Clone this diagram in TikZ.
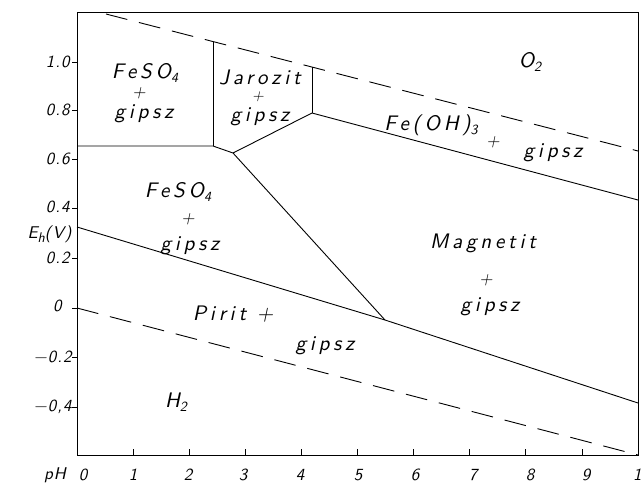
\documentclass[tikz,border=0pt]{standalone}
\usepackage{fontspec}
\newfontfamily\hand{lmsans10-oblique.otf}[LetterSpace=18]
\newfontfamily\handax{lmsans10-oblique.otf}[LetterSpace=6]
\newcommand\sbs[1]{\raisebox{-0.5ex}{\fontsize{14}{14}\selectfont #1}}
\begin{document}
\begin{tikzpicture}[x=1pt,y=-1pt,line width=0.9pt,
  lbl/.style={font=\fontsize{21}{23}\selectfont\hand, inner sep=0pt, anchor=base},
  pl/.style={font=\fontsize{17}{17}\selectfont\hand, inner sep=0pt, text height=7pt, text depth=0pt},
  ax/.style={font=\fontsize{17}{19}\selectfont\handax, inner sep=0pt},
  dsh/.style={dash pattern=on 22pt off 12pt},
  tick/.style={line width=0.8pt}]
\useasboundingbox (0,0) rectangle (644,490);
% frame
\coordinate (TL) at (77,12);
\coordinate (TR) at (638,12);
\coordinate (BR) at (638,455);
\coordinate (BL) at (77,455);
\draw[line width=1pt] (TL) -- (BL) -- (BR) -- (TR) -- cycle;
% water stability lines
\coordinate (O1) at (106,14);
\coordinate (O2) at (638,151);
\draw[dsh] (O1) -- (O2);
\coordinate (Hy1) at (77,308);
\draw[dsh] (Hy1) -- (BR);
% phase boundaries
\coordinate (A) at (77,146);
\coordinate (B) at (213,146);
\coordinate (Bt) at (213,42);
\coordinate (C) at (233,153);
\coordinate (D) at (312,113);
\coordinate (Dt) at (312,67);
\coordinate (E) at (638,200);
\coordinate (F) at (385,320);
\coordinate (G) at (77,227);
\coordinate (H) at (638,403);
\draw (A) -- (B) -- (C) -- (F);
\draw (B) -- (Bt);
\draw (C) -- (D) -- (E);
\draw (D) -- (Dt);
\draw (G) -- (F) -- (H);
% x ticks and labels
\foreach \i in {1,...,9} {
  \coordinate (xt\i) at ({77+56.1*\i},455);
  \draw[tick] (xt\i) -- ++(0,-6);
}
\node[ax] (px) at (55,475) {pH};
\foreach \i/\xx in {0/83,1/133,2/188,3/243,4/300,5/358,6/415,7/473,8/530,9/586,10/642} {
  \node[ax] (xl\i) at (\xx,475) {\i};
}
% y ticks and labels
\foreach \yy in {62,110,159,208,258,308,357,407} {
  \coordinate (yt\yy) at (72,\yy);
  \draw[tick] (yt\yy) -- ++(6,0);
}
\node[ax,anchor=east] (y10) at (70,62) {1.0};
\node[ax,anchor=east] (y08) at (70,110) {0.8};
\node[ax,anchor=east] (y06) at (70,159) {0.6};
\node[ax,anchor=east] (y04) at (70,207) {0.4};
\node[ax,anchor=east] (ylab) at (72,234) {E\sbs{h}(V)};
\node[ax,anchor=east] (y02) at (70,258) {0.2};
\node[ax,anchor=east] (y00) at (62,306) {0};
\node[ax,anchor=east] (ym02) at (72,357) {−0.2};
\node[ax,anchor=east] (ym04) at (72,407) {−0,4};
% region labels
\node[lbl] (fe1) at (145,78) {FeSO\sbs{4}};
\node[pl] (p1) at (139,94) {+};
\node[lbl] (g1) at (144,118) {gipsz};
\node[lbl] (ja) at (260,84) {Jarozit};
\node[pl,font=\fontsize{15}{15}\selectfont\hand] (p2) at (258,97) {+};
\node[lbl] (g2) at (260,121) {gipsz};
\node[lbl] (o2) at (530,67) {O\sbs{2}};
\node[lbl] (feoh) at (431,130) {Fe(OH)\sbs{3}};
\node[pl] (p3) at (493,143) {+};
\node[lbl] (g3) at (553,157) {gipsz};
\node[lbl] (fe2) at (178,197) {FeSO\sbs{4}};
\node[pl] (p4) at (188,220) {+};
\node[lbl] (g4) at (190,250) {gipsz};
\node[lbl] (mg) at (483,248) {Magnetit};
\node[pl] (p5) at (486,281) {+};
\node[lbl] (g5) at (490,311) {gipsz};
\node[lbl] (pi) at (233,320) {Pirit +};
\node[lbl] (g6) at (325,350) {gipsz};
\node[lbl] (h2) at (176,407) {H\sbs{2}};
\end{tikzpicture}
\end{document}
